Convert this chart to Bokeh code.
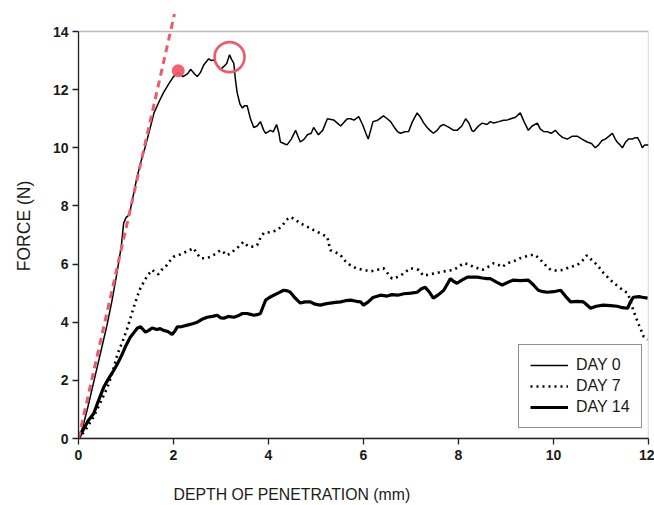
from bokeh.plotting import figure
from bokeh.models import Range1d, Legend, LegendItem, BoxAnnotation, FixedTicker, Title
from bokeh.embed import file_html
from bokeh.resources import INLINE

# ---------------- data ----------------
day0_x = [0, 0.1, 0.2, 0.3, 0.4, 0.5, 0.6, 0.7, 0.8, 0.9, 0.95, 1.0, 1.07, 1.12, 1.22, 1.31, 1.4, 1.48,
          1.59, 1.7, 1.79, 1.9, 2.0, 2.1, 2.2, 2.3, 2.36, 2.44, 2.5, 2.57, 2.64, 2.74, 2.8, 2.85, 2.92,
          2.99, 3.06, 3.12, 3.18, 3.22, 3.27, 3.3, 3.34, 3.4, 3.45, 3.5, 3.55, 3.62, 3.69, 3.76, 3.83,
          3.9, 3.94, 4.04, 4.1, 4.17, 4.22, 4.25, 4.32, 4.39, 4.48, 4.57, 4.62, 4.67, 4.75, 4.82, 4.9,
          4.95, 5.05, 5.14, 5.24, 5.37, 5.45, 5.52, 5.6, 5.66, 5.73, 5.8, 5.9, 5.98, 6.05, 6.1, 6.15,
          6.2, 6.3, 6.42, 6.5, 6.57, 6.65, 6.72, 6.78, 6.87, 6.95, 7.03, 7.13, 7.2, 7.27, 7.34, 7.4,
          7.47, 7.55, 7.62, 7.69, 7.8, 7.9, 7.97, 8.07, 8.15, 8.22, 8.28, 8.32, 8.42, 8.5, 8.6, 8.67,
          8.74, 8.85, 8.95, 9.03, 9.1, 9.2, 9.3, 9.38, 9.47, 9.55, 9.66, 9.72, 9.79, 9.88, 9.95, 10.04,
          10.12, 10.2, 10.29, 10.4, 10.5, 10.6, 10.71, 10.8, 10.88, 10.95, 11.02, 11.09, 11.17, 11.24,
          11.3, 11.34, 11.4, 11.45, 11.52, 11.58, 11.66, 11.72, 11.77, 11.82, 11.87, 11.92, 12.0]
day0_y = [0, 0.45, 1.1, 1.8, 2.5, 3.2, 3.9, 4.7, 5.6, 6.6, 7.4, 7.6, 7.7, 8.1, 8.9, 9.5, 10.0, 10.5,
          11.2, 11.6, 11.9, 12.2, 12.45, 12.6, 12.45, 12.55, 12.7, 12.55, 12.45, 12.6, 12.86, 13.06, 13.0,
          13.02, 12.85, 12.7, 12.8, 12.9, 13.2, 13.05, 12.9, 12.4, 11.9, 11.5, 11.37, 11.45, 11.45, 11.0,
          10.7, 10.75, 10.9, 10.6, 10.5, 10.6, 10.55, 10.8, 10.5, 10.2, 10.15, 10.1, 10.3, 10.6, 10.4,
          10.2, 10.3, 10.45, 10.5, 10.7, 10.45, 10.6, 11.0, 10.96, 10.85, 10.75, 10.9, 11.0, 11.0, 10.95,
          11.07, 10.8, 10.5, 10.3, 10.6, 10.9, 10.95, 11.1, 11.0, 10.9, 10.7, 10.55, 10.5, 10.55, 10.56,
          10.9, 11.2, 11.05, 10.85, 10.7, 10.6, 10.5, 10.6, 10.75, 10.8, 10.7, 10.6, 10.6, 10.75, 11.0,
          10.85, 10.6, 10.56, 10.75, 10.85, 10.8, 10.9, 10.85, 10.9, 10.95, 10.96, 11.0, 11.05, 11.2,
          10.9, 10.6, 10.75, 10.85, 10.65, 10.56, 10.55, 10.5, 10.6, 10.45, 10.35, 10.3, 10.4, 10.4,
          10.3, 10.2, 10.15, 10.0, 10.1, 10.25, 10.3, 10.4, 10.5, 10.3, 10.2, 10.1, 10.0, 10.2, 10.3,
          10.3, 10.35, 10.35, 10.2, 10.0, 10.1, 10.1]

day7_x = [0, 0.15, 0.32, 0.45, 0.61, 0.72, 0.82, 0.93, 1.03, 1.16, 1.24, 1.31, 1.38, 1.45, 1.55, 1.62,
          1.68, 1.75, 1.83, 1.92, 2.0, 2.1, 2.19, 2.3, 2.42, 2.5, 2.57, 2.68, 2.78, 2.88, 2.99, 3.06,
          3.13, 3.22, 3.34, 3.47, 3.58, 3.68, 3.76, 3.83, 3.9, 4.05, 4.19, 4.3, 4.4, 4.46, 4.55, 4.67,
          4.8, 4.95, 5.1, 5.24, 5.3, 5.42, 5.52, 5.62, 5.73, 5.85, 6.0, 6.15, 6.29, 6.42, 6.5, 6.6,
          6.7, 6.78, 6.9, 6.99, 7.08, 7.16, 7.26, 7.4, 7.55, 7.7, 7.9, 8.0, 8.1, 8.2, 8.32, 8.42, 8.5,
          8.62, 8.74, 8.83, 8.92, 9.0, 9.1, 9.2, 9.3, 9.45, 9.59, 9.7, 9.79, 9.87, 9.94, 10.05, 10.2,
          10.35, 10.5, 10.6, 10.7, 10.8, 10.92, 11.05, 11.2, 11.38, 11.56, 11.62, 11.68, 11.8, 11.9, 11.98]
day7_y = [0, 0.3, 0.75, 1.2, 1.76, 2.3, 2.9, 3.35, 3.8, 4.5, 4.9, 5.2, 5.4, 5.6, 5.8, 5.7, 5.65, 5.8,
          5.9, 6.1, 6.25, 6.3, 6.37, 6.45, 6.55, 6.35, 6.2, 6.2, 6.25, 6.35, 6.48, 6.4, 6.3, 6.4, 6.55,
          6.76, 6.6, 6.6, 6.65, 6.9, 7.07, 7.1, 7.17, 7.35, 7.55, 7.62, 7.55, 7.4, 7.3, 7.17, 7.05, 6.93,
          6.48, 6.4, 6.3, 6.1, 5.95, 5.85, 5.8, 5.75, 5.8, 5.86, 5.7, 5.5, 5.55, 5.6, 5.75, 5.86, 5.82,
          5.8, 5.6, 5.65, 5.7, 5.75, 5.8, 5.9, 6.03, 6.0, 5.9, 5.85, 5.8, 5.9, 6.03, 5.98, 5.9, 6.0,
          6.07, 6.12, 6.2, 6.28, 6.33, 6.2, 6.03, 5.9, 5.8, 5.78, 5.8, 5.9, 5.97, 6.1, 6.3, 6.15, 5.97,
          5.7, 5.45, 5.2, 5.0, 4.75, 4.4, 3.9, 3.5, 3.4]

day14_x = [0, 0.1, 0.2, 0.32, 0.42, 0.53, 0.63, 0.74, 0.83, 0.92, 1.0, 1.09, 1.17, 1.24, 1.31, 1.36,
           1.41, 1.48, 1.55, 1.65, 1.72, 1.79, 1.88, 1.97, 2.03, 2.08, 2.18, 2.29, 2.4, 2.5, 2.6, 2.71,
           2.82, 2.92, 2.99, 3.06, 3.15, 3.27, 3.36, 3.45, 3.55, 3.62, 3.69, 3.76, 3.83, 3.9, 3.94, 4.02,
           4.11, 4.2, 4.32, 4.4, 4.46, 4.55, 4.67, 4.77, 4.88, 4.98, 5.09, 5.2, 5.3, 5.41, 5.52, 5.62,
           5.73, 5.85, 5.94, 6.0, 6.1, 6.2, 6.36, 6.5, 6.6, 6.72, 6.85, 7.0, 7.13, 7.22, 7.3, 7.38, 7.47,
           7.58, 7.69, 7.76, 7.83, 7.9, 7.97, 8.07, 8.19, 8.3, 8.4, 8.5, 8.6, 8.67, 8.8, 8.92, 9.05,
           9.16, 9.3, 9.47, 9.58, 9.68, 9.78, 9.87, 10.0, 10.15, 10.25, 10.36, 10.5, 10.63, 10.7, 10.78,
           10.9, 11.05, 11.2, 11.34, 11.45, 11.56, 11.62, 11.68, 11.8, 11.87, 11.98]
day14_y = [0, 0.3, 0.6, 0.86, 1.3, 1.76, 2.05, 2.34, 2.6, 2.9, 3.2, 3.48, 3.65, 3.8, 3.84, 3.75, 3.66,
           3.72, 3.8, 3.75, 3.78, 3.72, 3.68, 3.58, 3.7, 3.84, 3.85, 3.9, 3.95, 4.0, 4.1, 4.17, 4.2, 4.24,
           4.15, 4.14, 4.2, 4.17, 4.22, 4.3, 4.3, 4.27, 4.24, 4.26, 4.3, 4.6, 4.76, 4.85, 4.93, 5.0, 5.1,
           5.08, 5.03, 4.85, 4.66, 4.7, 4.7, 4.62, 4.59, 4.63, 4.66, 4.68, 4.7, 4.74, 4.76, 4.72, 4.7,
           4.59, 4.7, 4.85, 4.93, 4.9, 4.95, 4.93, 4.98, 5.0, 5.03, 5.15, 5.2, 5.05, 4.83, 4.95, 5.1,
           5.3, 5.5, 5.4, 5.34, 5.45, 5.55, 5.55, 5.55, 5.52, 5.5, 5.5, 5.38, 5.28, 5.38, 5.45, 5.43,
           5.45, 5.28, 5.1, 5.05, 5.03, 5.05, 5.1, 4.9, 4.7, 4.72, 4.7, 4.6, 4.48, 4.55, 4.59, 4.57,
           4.55, 4.5, 4.48, 4.7, 4.86, 4.88, 4.86, 4.83]

# initial-slope (stiffness) line, yield point and peak point
slope_x = [0, 2.02]
slope_y = [0, 14.6]
yield_x = [2.1]
yield_y = [12.65]
peak_x = [3.18]
peak_y = [13.12]

x_ticks = [0, 2, 4, 6, 8, 10, 12]
y_ticks = [0, 2, 4, 6, 8, 10, 12, 14]
series_labels = ["DAY 0", "DAY 7", "DAY 14"]
x_title = "DEPTH OF PENETRATION (mm)"
y_title = "FORCE (N)"

# ---------------- figure ----------------
FONT = "Liberation Sans"
TXT = "#1a1a1a"
RED = "#ee5a6b"

p = figure(width=654, height=505, output_backend="svg", toolbar_location=None,
           x_range=Range1d(0, 12), y_range=Range1d(0, 14.62),
           min_border_left=78, min_border_right=6, min_border_top=13, min_border_bottom=67)
p.outline_line_color = None
p.grid.visible = False
p.background_fill_color = "white"
p.border_fill_color = "white"

for ax, ticks, bounds in ((p.xaxis[0], x_ticks, (0, 12)), (p.yaxis[0], y_ticks, (0, 14))):
    ax.ticker = FixedTicker(ticks=ticks)
    ax.bounds = bounds
    ax.major_tick_in = 0
    ax.major_tick_out = 6
    ax.minor_tick_line_color = None
    ax.axis_line_width = 1.3
    ax.major_tick_line_width = 1.3
    ax.axis_line_color = "#222222"
    ax.major_tick_line_color = "#222222"
    ax.major_label_text_font = FONT
    ax.major_label_text_font_style = "bold"
    ax.major_label_text_font_size = "14px"
    ax.major_label_text_color = TXT
    ax.axis_label_text_font = FONT
    ax.axis_label_text_font_style = "normal"
    ax.axis_label_text_font_size = "17.5px"
    ax.axis_label_text_color = TXT

p.yaxis[0].axis_label = y_title
p.xaxis[0].major_label_standoff = 5
p.yaxis[0].major_label_standoff = 4
p.yaxis[0].axis_label_standoff = 16
# blank spacer label on the x axis pushes the (left-shifted) title below it down
p.xaxis[0].axis_label = " "
p.xaxis[0].axis_label_text_font_size = "10px"
p.xaxis[0].axis_label_standoff = 7

# x-axis title sits left of centre in the reference
p.add_layout(Title(text=x_title, align="left", offset=95, standoff=0, vertical_align="bottom",
                   text_font=FONT, text_font_size="15.8px", text_font_style="normal",
                   text_color=TXT), "below")

# plot frame box (0..12 x 0..14)
p.add_layout(BoxAnnotation(left=0, right=12, bottom=0, top=14, fill_alpha=0,
                           line_color="#222222", line_width=1.3, level="underlay"))

r0 = p.line(day0_x, day0_y, line_color="black", line_width=1.5)
r7 = p.line(day7_x, day7_y, line_color="black", line_width=2.6, line_dash="2 4")
r14 = p.line(day14_x, day14_y, line_color="black", line_width=3.2)

p.line(slope_x, slope_y, line_color=RED, line_width=3, line_dash="7 5")
p.scatter(yield_x, yield_y, size=13, fill_color=RED, line_color=None, fill_alpha=0.95)
p.scatter(peak_x, peak_y, size=30, fill_color=None, line_color=RED, line_width=2.6)

legend = Legend(items=[LegendItem(label=series_labels[0], renderers=[r0]),
                       LegendItem(label=series_labels[1], renderers=[r7]),
                       LegendItem(label=series_labels[2], renderers=[r14])],
                location=(440, 10), margin=0, padding=11, spacing=3,
                glyph_width=38, glyph_height=18, label_height=18, label_standoff=8,
                label_text_font=FONT, label_text_font_size="16px", label_text_color=TXT,
                border_line_color="#222222", border_line_width=1.2,
                background_fill_color="white", background_fill_alpha=1)
p.add_layout(legend)

open("out.html", "w").write(file_html(p, INLINE))
